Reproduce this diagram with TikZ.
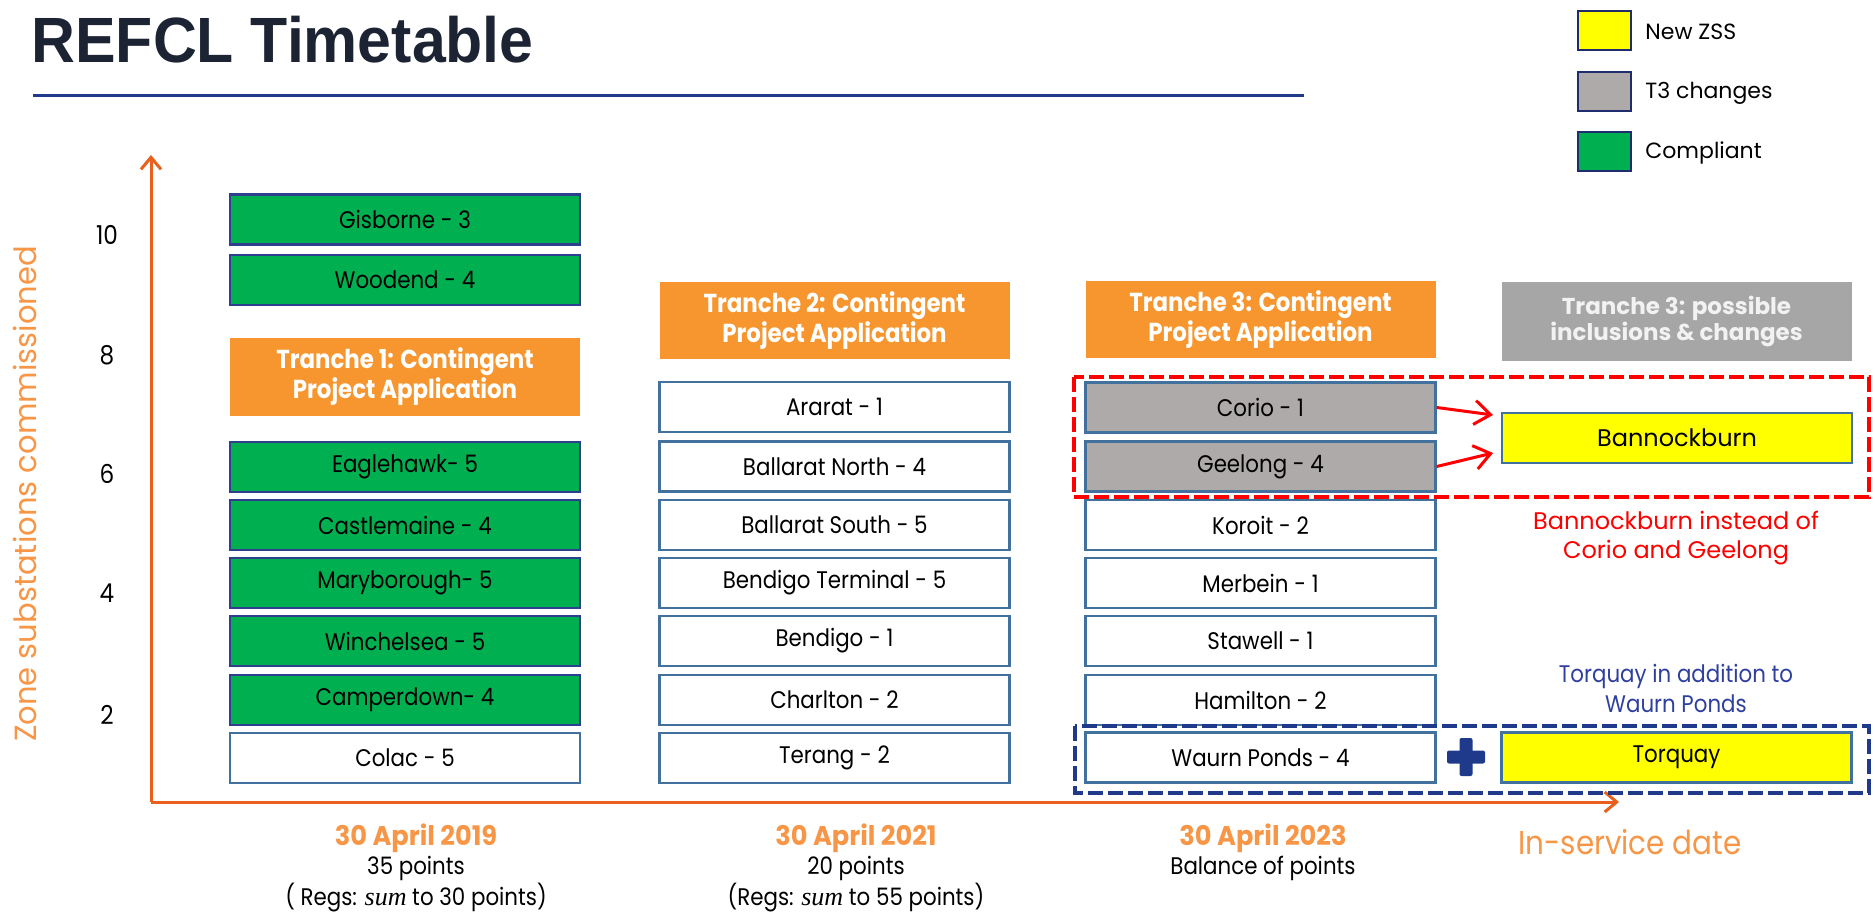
\documentclass[tikz,border=0pt]{standalone}
\usepackage{fontspec}
\setmainfont{Poppins}
\newfontfamily\titlefont{Liberation Sans}[FakeStretch=0.95]
\newfontfamily\boxfont{Poppins}[FakeStretch=0.89]
\newfontfamily\hdrfont{Poppins}[FakeStretch=0.88]
\newfontfamily\datefont{Poppins}[FakeStretch=0.95]
\newfontfamily\sumfont{Liberation Serif}
\usetikzlibrary{arrows.meta}
\definecolor{titlecol}{HTML}{1C2333}
\definecolor{navy}{HTML}{1F3A8A}
\definecolor{axisor}{HTML}{E8601C}
\definecolor{lightor}{HTML}{F79646}
\definecolor{hdror}{HTML}{F7962F}
\definecolor{grn}{HTML}{00B050}
\definecolor{grnbd}{HTML}{2E3F8F}
\definecolor{boxbd}{HTML}{41719C}
\definecolor{t3g}{HTML}{AEAAAA}
\definecolor{hdrg}{HTML}{A6A6A6}
\definecolor{hdrgtxt}{HTML}{F2F2F2}
\definecolor{ylw}{HTML}{FFFF00}
\definecolor{redc}{HTML}{FF0000}
\definecolor{bluetxt}{HTML}{2F3F9E}
\definecolor{legbd}{HTML}{1F2D6E}
\begin{document}
\begin{tikzpicture}[x=0.5pt,y=-0.5pt,
  stn/.style={draw=boxbd, line width=1.2pt, minimum width=175pt, minimum height=25pt,
    inner sep=0pt, font=\boxfont\fontsize{12}{14}\selectfont},
  wbox/.style={stn, fill=white},
  gbox/.style={stn, fill=grn, draw=grnbd},
  tbox/.style={stn, fill=t3g},
  ybox/.style={stn, fill=ylw},
  hdr/.style={fill=hdror, minimum width=175pt, minimum height=38.5pt, inner sep=0pt,
    text=white, align=center, font=\hdrfont\bfseries\fontsize{13}{12.5}\selectfont},
  hdrgray/.style={fill=hdrg, minimum width=175pt, minimum height=39.5pt, inner sep=0pt,
    text=hdrgtxt, align=center, font=\bfseries\fontsize{11.5}{13}\selectfont},
  legbox/.style={draw=legbd, line width=1.3pt, minimum width=26.5pt, minimum height=19.5pt, inner sep=0pt},
  legtxt/.style={anchor=west, inner sep=0pt, font=\fontsize{11}{13}\selectfont},
  tick/.style={font=\boxfont\fontsize{13}{15}\selectfont, inner sep=0pt},
  axis/.style={draw=axisor, line width=1.5pt, -{Straight Barb[length=6pt,width=10pt,line width=1.5pt]}},
  datelab/.style={text=lightor, inner sep=0pt, font=\datefont\bfseries\fontsize{13.5}{15}\selectfont},
  sublab/.style={inner sep=0pt, font=\boxfont\fontsize{12}{14}\selectfont},
  redarrow/.style={draw=redc, line width=1.5pt, -{Straight Barb[length=8pt,width=12pt,line width=1.5pt]}},
  dashbox/.style={line width=2pt, dash pattern=on 7.5pt off 2.5pt}
]
\useasboundingbox (0,0) rectangle (1875,914);

% title
\node[anchor=base west, inner sep=0pt, text=titlecol,
  font=\titlefont\bfseries\fontsize{32}{36}\selectfont] (title) at (31,63) {REFCL Timetable};
\coordinate (rule1) at (33,96);
\coordinate (rule2) at (1304,96);
\draw[navy, line width=1.5pt] (rule1) -- (rule2);

% legend
\node[legbox, fill=ylw] (legY) at (1604.5,30.5) {};
\node[legbox, fill=t3g] (legT) at (1604.5,91.5) {};
\node[legbox, fill=grn] (legC) at (1604.5,151.5) {};
\node[legtxt] (legYt) at (1645,32) {New ZSS};
\node[legtxt] (legTt) at (1645,93) {T3 changes};
\node[legtxt] (legCt) at (1645,153) {Compliant};

% axes
\coordinate (O) at (151,802);
\coordinate (ytip) at (151,155);
\coordinate (xtip) at (1619,802);
\draw[axis] (O) -- (ytip);
\draw[axis] (O) -- (xtip);

% tick labels
\node[tick] (t10) at (107,235) {10};
\node[tick] (t8) at (107,355) {8};
\node[tick] (t6) at (107,474) {6};
\node[tick] (t4) at (107,593) {4};
\node[tick] (t2) at (107,715) {2};
\node[rotate=90, text=lightor, inner sep=0pt, font=\fontsize{15.3}{17}\selectfont] (ylab) at (25,494) {Zone substations commissioned};

% column 1
\node[gbox] (gis) at (405,219.5) {Gisborne - 3};
\node[gbox] (woo) at (405,280) {Woodend - 4};
\node[hdr, minimum height=39pt] (h1) at (405,377) {Tranche 1: Contingent\\Project Application};
\node[gbox] (eag) at (405,467) {Eaglehawk- 5};
\node[gbox] (cas) at (405,525) {Castlemaine - 4};
\node[gbox] (mar) at (405,583) {Maryborough- 5};
\node[gbox] (win) at (405,641) {Winchelsea - 5};
\node[gbox] (cam) at (405,700) {Camperdown- 4};
\node[wbox] (colac) at (405,758) {Colac - 5};

% column 2
\node[hdr] (h2) at (834.5,320.5) {Tranche 2: Contingent\\Project Application};
\node[wbox] (ara) at (834.5,407) {Ararat - 1};
\node[wbox] (bno) at (834.5,466.5) {Ballarat North - 4};
\node[wbox] (bso) at (834.5,525) {Ballarat South - 5};
\node[wbox] (bte) at (834.5,583) {Bendigo Terminal - 5};
\node[wbox] (ben) at (834.5,641) {Bendigo - 1};
\node[wbox] (cha) at (834.5,700) {Charlton - 2};
\node[wbox] (ter) at (834.5,758) {Terang - 2};

% column 3
\node[hdr] (h3) at (1260.5,320) {Tranche 3: Contingent\\Project Application};
\node[tbox] (cor) at (1260.5,407.5) {Corio - 1};
\node[tbox] (gee) at (1260.5,466.5) {Geelong - 4};
\node[wbox] (kor) at (1260.5,525) {Koroit - 2};
\node[wbox] (mer) at (1260.5,583) {Merbein - 1};
\node[wbox] (sta) at (1260.5,641) {Stawell - 1};
\node[wbox] (ham) at (1260.5,700) {Hamilton - 2};
\node[wbox] (wau) at (1260.5,757.5) {Waurn Ponds - 4};

% column 4
\node[hdrgray] (h4) at (1676.5,321.5) {Tranche 3: possible\\inclusions \& changes};
\node[ybox, font=\fontsize{12}{14}\selectfont] (ban) at (1677,438) {Bannockburn};
\node[ybox] (tor) at (1676.5,757.5) {Torquay};

% red group
\coordinate (rA) at (1074,377);
\coordinate (rB) at (1869,497);
\draw[redc, dashbox] (rA) rectangle (rB);
\coordinate (tip1) at (1493,415);
\coordinate (tip2) at (1493,453);
\draw[redarrow] (cor.east) -- (tip1);
\draw[redarrow] (gee.east) -- (tip2);
\node[text=redc, align=center, inner sep=0pt, font=\fontsize{12}{14.5}\selectfont] (redtxt) at (1676,538) {Bannockburn instead of\\Corio and Geelong};

% blue group
\node[text=bluetxt, align=center, inner sep=0pt, font=\boxfont\fontsize{12}{15}\selectfont] (bluetxt) at (1676,688) {Torquay in addition to\\Waurn Ponds};
\coordinate (bA) at (1075,726);
\coordinate (bB) at (1869,793);
\draw[navy, dashbox] (bA) rectangle (bB);
\fill[navy, rounded corners=1pt] (1447,750.5) rectangle (1485,763.5);
\fill[navy, rounded corners=1pt] (1459.5,738) rectangle (1472.5,776);

% bottom labels
\node[datelab] (d1) at (416,838) {30 April 2019};
\node[sublab] (p1) at (416,868) {35 points};
\node[sublab] (r1) at (416,898) {( Regs: {\sumfont\itshape\fontsize{13}{14}\selectfont sum} to 30 points)};
\node[datelab] (d2) at (856,838) {30 April 2021};
\node[sublab] (p2) at (856,868) {20 points};
\node[sublab] (r2) at (856,898) {(Regs: {\sumfont\itshape\fontsize{13}{14}\selectfont sum} to 55 points)};
\node[datelab] (d3) at (1263,838) {30 April 2023};
\node[sublab] (p3) at (1263,868) {Balance of points};
\node[text=lightor, inner sep=0pt, font=\boxfont\fontsize{16.5}{18}\selectfont] (isd) at (1630,842) {In-service date};
\end{tikzpicture}
\end{document}
